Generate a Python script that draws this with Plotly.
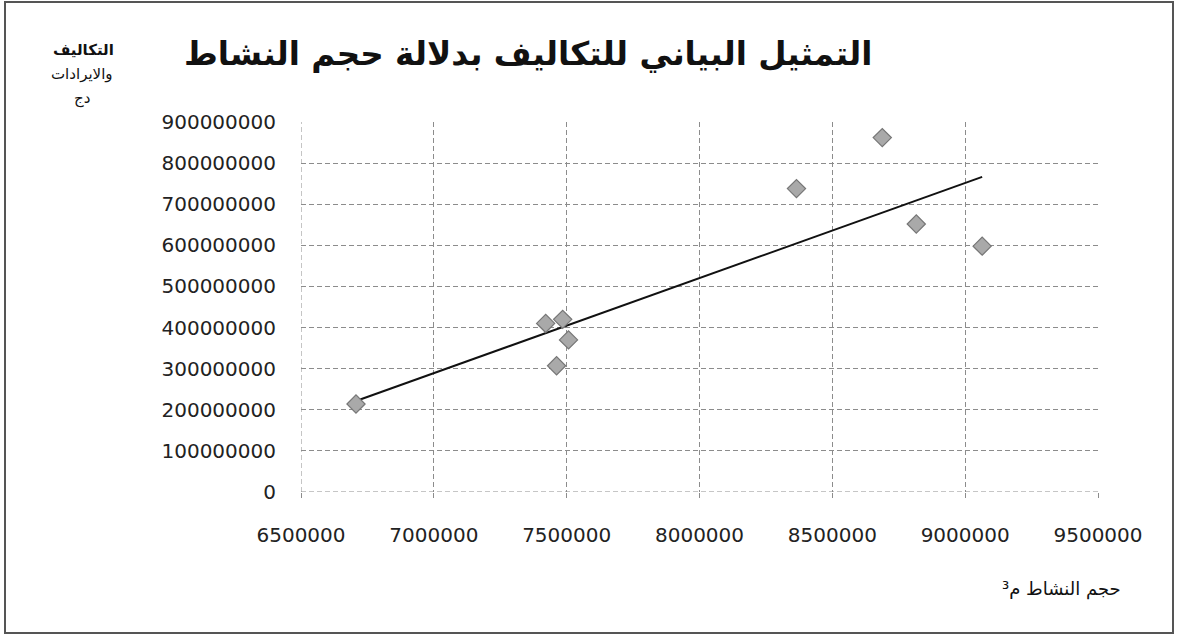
import numpy as np
import plotly.graph_objects as go

# Activity volume (m3) and costs/revenues (DZD)
volume = [6707000, 7421000, 7485000, 7507000, 7462000, 8688000, 8365000, 8816000, 9064000]
costs = [214000000, 410000000, 420000000, 370000000, 307000000, 862000000, 738000000, 652000000, 598000000]

x_ticks = [6500000, 7000000, 7500000, 8000000, 8500000, 9000000, 9500000]
y_ticks = [0, 100000000, 200000000, 300000000, 400000000, 500000000,
           600000000, 700000000, 800000000, 900000000]

title_text = "التمثيل البياني للتكاليف بدلالة حجم النشاط"
y_label_lines = ["التكاليف", "والايرادات", "دج"]
x_label = "حجم النشاط م³"

# Least-squares linear trend over the observed range
slope, intercept = np.polyfit(volume, costs, 1)
trend_x = [min(volume), max(volume)]
trend_y = [slope * v + intercept for v in trend_x]

W, H = 1179, 636
L, R, T, B = 301, 81, 122, 144
GRID = "#8c8c8c"
GRID_DASH = "5px,3px"

fig = go.Figure()
fig.add_trace(go.Scatter(
    x=trend_x, y=trend_y, mode="lines",
    line=dict(color="#111111", width=2), hoverinfo="skip", showlegend=False))
fig.add_trace(go.Scatter(
    x=volume, y=costs, mode="markers",
    marker=dict(symbol="diamond", size=14, color="#a9a9a9",
                line=dict(color="#767676", width=1.2)),
    showlegend=False))

tick_font = dict(family="DejaVu Sans", size=20, color="#222222")
fig.update_xaxes(
    range=[x_ticks[0], x_ticks[-1]], tickvals=x_ticks, tickformat="d",
    showgrid=True, gridcolor=GRID, griddash=GRID_DASH, gridwidth=1,
    zeroline=False, showline=False, ticks="outside", ticklen=5,
    tickcolor=GRID, tickfont=tick_font, ticklabelstandoff=20)
fig.update_yaxes(
    range=[y_ticks[0], y_ticks[-1]], tickvals=y_ticks, tickformat="d",
    showgrid=True, gridcolor=GRID, griddash=GRID_DASH, gridwidth=1,
    zeroline=False, showline=False, ticks="", tickfont=tick_font,
    ticklabelstandoff=24)

pw, ph = W - L - R, H - T - B

def px(x):
    return (x - L) / pw

def py(y):
    return (H - B - y) / ph

annotations = [
    dict(text="<b>" + title_text + "</b>", x=px(182), y=py(33),
         xref="paper", yref="paper", showarrow=False,
         font=dict(family="DejaVu Sans", size=32.6, color="#111111")),
    dict(text=x_label, x=px(1123), y=py(602), xref="paper", yref="paper",
         showarrow=False, font=dict(family="DejaVu Sans", size=18, color="#111111")),
]
for i, (line, xx, yy) in enumerate(zip(y_label_lines, [51, 49, 72], [39, 63, 87])):
    txt = "<b>" + line + "</b>" if i == 0 else line
    annotations.append(dict(text=txt, x=px(xx), y=py(yy), xref="paper", yref="paper",
                            showarrow=False,
                            font=dict(family="DejaVu Sans", size=15, color="#111111")))

shapes = [
    # Left and bottom edges of the plot area, drawn like the gridlines
    dict(type="line", xref="x", yref="paper", x0=x_ticks[0], x1=x_ticks[0], y0=0, y1=1,
         line=dict(color=GRID, width=1, dash=GRID_DASH), layer="below"),
    dict(type="line", xref="paper", yref="y", x0=0, x1=1, y0=y_ticks[0], y1=y_ticks[0],
         line=dict(color=GRID, width=1, dash=GRID_DASH), layer="below"),
    # Outer chart border
    dict(type="rect", xref="paper", yref="paper",
         x0=px(5), x1=px(1173), y0=py(633), y1=py(2),
         line=dict(color="#555555", width=2)),
]

fig.update_layout(
    width=W, height=H, margin=dict(l=L, r=R, t=T, b=B),
    paper_bgcolor="white", plot_bgcolor="white",
    annotations=annotations, shapes=shapes, showlegend=False)

fig.write_html("out.html")
